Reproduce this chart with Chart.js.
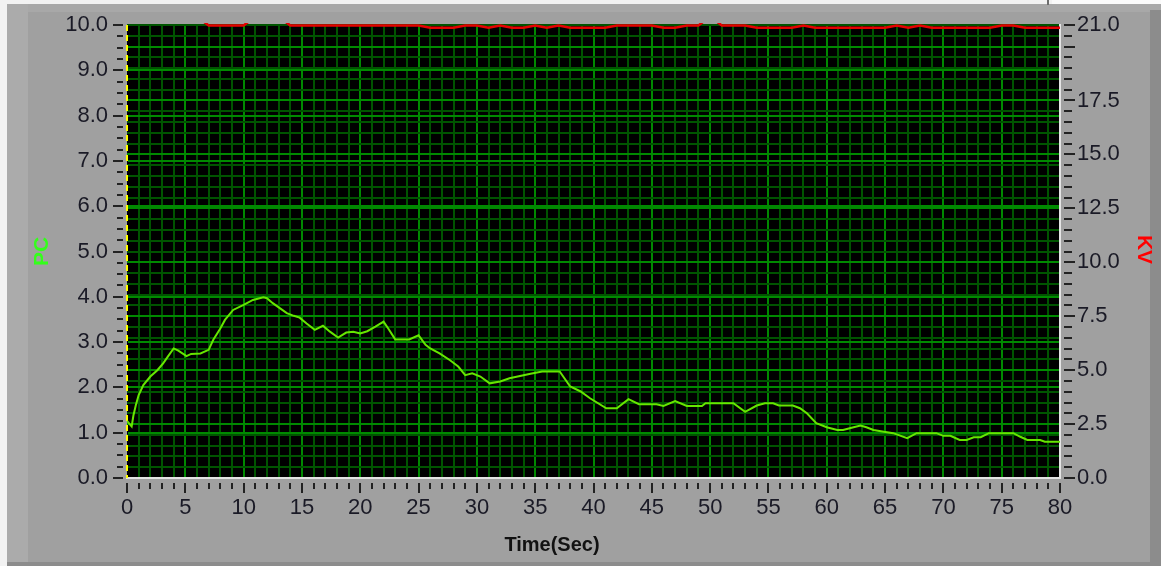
<!DOCTYPE html>
<html>
<head>
<meta charset="utf-8">
<script src="https://cdn.jsdelivr.net/npm/chart.js@4.4.1/dist/chart.umd.min.js"></script>
<style>
  html, body { margin: 0; padding: 0; background: #a0a0a0; overflow: hidden; }
  canvas { display: block; }
</style>
</head>
<body>
<canvas id="graph" width="1161" height="566"></canvas>
<script>
// PC trace: sample time (s) and reading
const pcTime = [0, 0.4, 0.55, 0.75, 1.0, 1.4, 2.0, 2.6, 3.1, 3.5, 4.0, 4.4, 5.1, 5.5, 6.3, 7.0, 7.4, 8.0, 8.4, 9.1,
  10.0, 10.8, 11.7, 12.0, 12.5, 13.1, 13.7, 14.3, 14.8, 15.4, 16.1, 16.8, 17.4, 18.1, 18.8, 19.4, 20.0, 20.6, 21.3, 22.0,
  22.4, 23.0, 24.2, 25.0, 25.6, 26.0, 26.8, 27.7, 28.4, 29.0, 29.6, 30.3, 31.1, 32.0, 32.8, 33.7, 34.6, 35.6, 37.1, 38.0,
  38.9, 39.7, 41.1, 42.0, 43.0, 43.9, 45.4, 46.0, 47.0, 48.0, 49.3, 49.6, 52.0, 53.0, 54.0, 54.7, 55.4, 55.9, 57.1, 57.7,
  58.3, 59.1, 60.0, 60.9, 61.4, 62.3, 62.9, 63.4, 64.0, 64.9, 65.7, 66.9, 67.7, 69.4, 70.0, 70.6, 71.4, 72.0, 72.6, 73.2,
  73.9, 76.0, 76.6, 77.2, 78.3, 78.7, 80.0];
const pcValue = [1.26, 1.14, 1.38, 1.60, 1.83, 2.05, 2.24, 2.38, 2.53, 2.68, 2.86, 2.81, 2.69, 2.74, 2.75, 2.83, 3.05, 3.30, 3.49, 3.71,
  3.82, 3.93, 3.99, 3.97, 3.86, 3.75, 3.64, 3.58, 3.54, 3.41, 3.27, 3.36, 3.23, 3.10, 3.21, 3.23, 3.19, 3.24, 3.34, 3.45,
  3.30, 3.06, 3.06, 3.15, 2.94, 2.86, 2.75, 2.60, 2.46, 2.27, 2.31, 2.24, 2.09, 2.13, 2.20, 2.25, 2.30, 2.35, 2.35, 2.02,
  1.91, 1.76, 1.54, 1.54, 1.74, 1.63, 1.63, 1.59, 1.70, 1.59, 1.59, 1.65, 1.65, 1.46, 1.60, 1.65, 1.65, 1.60, 1.60, 1.54,
  1.43, 1.21, 1.12, 1.06, 1.06, 1.12, 1.16, 1.12, 1.06, 1.02, 0.99, 0.88, 0.99, 0.99, 0.93, 0.93, 0.84, 0.84, 0.90, 0.90,
  0.99, 0.99, 0.91, 0.84, 0.84, 0.80, 0.80];

// KV trace: one sample per second (values above 21.0 run off the top of the graph)
const kvTime = [0, 1, 2, 3, 4, 5, 6, 7, 8, 9, 10, 11, 12, 13, 14, 15, 16, 17, 18, 19, 20,
  21, 22, 23, 24, 25, 26, 27, 28, 29, 30, 31, 32, 33, 34, 35, 36, 37, 38, 39, 40,
  41, 42, 43, 44, 45, 46, 47, 48, 49, 50, 51, 52, 53, 54, 55, 56, 57, 58, 59, 60,
  61, 62, 63, 64, 65, 66, 67, 68, 69, 70, 71, 72, 73, 74, 75, 76, 77, 78, 79, 80];
const kvValue = [21.4, 21.4, 21.4, 21.4, 21.4, 21.4, 21.4, 20.98, 20.98, 20.98, 20.98, 21.4, 21.4, 21.4, 20.98, 20.98, 20.98, 20.98, 20.98, 20.98, 20.98,
  20.98, 20.98, 20.98, 20.98, 20.98, 20.87, 20.87, 20.87, 20.98, 20.98, 20.87, 20.98, 20.87, 20.87, 20.98, 20.87, 20.98, 20.87, 20.87, 20.87,
  20.87, 20.98, 20.98, 20.98, 20.98, 20.87, 20.87, 20.98, 20.98, 21.4, 20.98, 20.98, 20.98, 20.87, 20.87, 20.87, 20.87, 20.98, 20.87, 20.87,
  20.87, 20.87, 20.87, 20.87, 20.87, 20.98, 20.87, 20.98, 20.87, 20.87, 20.87, 20.87, 20.87, 20.87, 20.98, 20.98, 20.87, 20.87, 20.87, 20.87];

// Tick labels
const pcTickLabels = ['0.0', '1.0', '2.0', '3.0', '4.0', '5.0', '6.0', '7.0', '8.0', '9.0', '10.0'];
const kvTickLabels = ['0.0', '2.5', '5.0', '7.5', '10.0', '12.5', '15.0', '17.5', '21.0'];
const timeTickLabels = ['0', '5', '10', '15', '20', '25', '30', '35', '40', '45', '50', '55', '60', '65', '70', '75', '80'];

const GRID_MAJOR = '#008a00';
const GRID_MINOR = '#005400';
const CLEAR = 'rgba(0,0,0,0)';
const LABEL_COLOR = '#1a1a26';
const TICK_FONT = { family: '"Liberation Sans", Arial, sans-serif', size: 22 };

const r2 = v => Math.round(v * 100) / 100;
const noPad = s => { s.paddingTop = 0; s.paddingBottom = 0; s.paddingLeft = 0; s.paddingRight = 0; };

// Panel frame, plot background, tick marks and axis captions
const panel = {
  id: 'panel',
  beforeDraw(chart) {
    const { ctx, width, height, chartArea: a } = chart;
    ctx.save();
    ctx.fillStyle = '#a0a0a0';
    ctx.fillRect(0, 0, width, height);
    ctx.fillStyle = '#f2f2f2';
    ctx.fillRect(0, 0, width, 4);
    ctx.fillRect(0, 0, 7, height);
    ctx.fillStyle = '#ababab';
    ctx.fillRect(7, 4, 21, height - 4);
    ctx.fillStyle = '#a8a8a8';
    ctx.fillRect(28, 4, width - 28, 8);
    ctx.fillStyle = '#8c8c8c';
    ctx.fillRect(1150, 10, width - 1150, height - 10);
    ctx.fillRect(7, height - 4, width - 7, 4);
    ctx.fillStyle = '#fafafa';
    ctx.fillRect(1052, 0, width - 1052, 4);
    ctx.fillStyle = '#6e6e6e';
    ctx.fillRect(1047, 0, 2, 5);
    ctx.fillStyle = '#000000';
    ctx.fillRect(a.left, a.top, a.right - a.left, a.bottom - a.top);
    ctx.restore();
  },
  beforeDatasetsDraw(chart) {
    // dashed yellow cursor along the left edge of the plot
    const { ctx, chartArea: a } = chart;
    ctx.save();
    ctx.strokeStyle = '#ffff00';
    ctx.lineWidth = 2;
    ctx.setLineDash([6, 4]);
    ctx.beginPath();
    ctx.moveTo(a.left, a.top);
    ctx.lineTo(a.left, a.bottom);
    ctx.stroke();
    ctx.restore();
  },
  afterDraw(chart) {
    const { ctx, chartArea: a } = chart;
    const { x, y, y2 } = chart.scales;
    ctx.save();
    ctx.strokeStyle = '#222222';
    ctx.lineWidth = 2;
    const seg = (x1, y1, x2, y3) => { ctx.beginPath(); ctx.moveTo(x1, y1); ctx.lineTo(x2, y3); ctx.stroke(); };
    y.ticks.forEach(t => {
      const p = Math.round(y.getPixelForValue(t.value));
      const major = Number.isInteger(r2(t.value));
      seg(a.left - (major ? 14 : 10), p, a.left - 4, p);
    });
    y2.ticks.forEach(t => {
      const p = Math.round(y2.getPixelForValue(t.value));
      const major = Number.isInteger(r2(t.value) / 2.5) || r2(t.value) === 21;
      seg(a.right + 4, p, a.right + (major ? 15 : 12), p);
    });
    x.ticks.forEach(t => {
      const p = Math.round(x.getPixelForValue(t.value));
      const major = t.value % 5 === 0;
      seg(p, a.bottom + 5, p, a.bottom + (major ? 15 : 11));
    });

    // axis captions
    ctx.textAlign = 'center';
    ctx.textBaseline = 'middle';
    ctx.font = 'bold 21px "Liberation Sans", Arial, sans-serif';
    ctx.fillStyle = '#33ff1a';
    ctx.save();
    ctx.translate(a.left - 85, (a.top + a.bottom) / 2);
    ctx.rotate(-Math.PI / 2);
    ctx.fillText('PC', 0, 0);
    ctx.restore();
    ctx.fillStyle = '#ff0000';
    ctx.save();
    ctx.translate(a.right + 84, (a.top + a.bottom) / 2 - 2);
    ctx.rotate(Math.PI / 2);
    ctx.fillText('KV', 0, 0);
    ctx.restore();
    ctx.fillStyle = '#111111';
    ctx.font = 'bold 20px "Liberation Sans", Arial, sans-serif';
    ctx.fillText('Time(Sec)', a.left + 425, a.bottom + 67);
    ctx.restore();
  }
};

new Chart(document.getElementById('graph'), {
  type: 'line',
  data: {
    datasets: [
      {
        label: 'PC',
        data: pcTime.map((t, i) => ({ x: t, y: pcValue[i] })),
        yAxisID: 'y',
        borderColor: '#66e600',
        borderWidth: 2,
        pointRadius: 0,
        tension: 0
      },
      {
        label: 'KV',
        data: kvTime.map((t, i) => ({ x: t, y: kvValue[i] })),
        yAxisID: 'y2',
        borderColor: '#e60000',
        borderWidth: 2.5,
        pointRadius: 0,
        tension: 0,
        clip: { left: 0, right: 0, top: 2, bottom: 0 }
      }
    ]
  },
  options: {
    responsive: false,
    animation: false,
    devicePixelRatio: 1,
    layout: { padding: { top: 25, left: 0, right: 0, bottom: 0 } },
    plugins: { legend: { display: false }, tooltip: { enabled: false } },
    scales: {
      x: {
        type: 'linear',
        min: 0,
        max: 80,
        afterFit: s => { s.height = 88; noPad(s); },
        ticks: {
          stepSize: 1,
          autoSkip: false,
          maxRotation: 0,
          padding: 17,
          color: LABEL_COLOR,
          font: TICK_FONT,
          callback: v => timeTickLabels.includes(String(v)) ? String(v) : ''
        },
        grid: {
          drawTicks: false,
          lineWidth: 2,
          color: c => (c.tick.value === 0 || c.tick.value === 80) ? CLEAR : (c.tick.value % 5 === 0 ? GRID_MAJOR : GRID_MINOR)
        },
        border: { color: '#e4e4e4', width: 2 }
      },
      y: {
        position: 'left',
        min: 0,
        max: 10,
        afterFit: s => { s.width = 127; noPad(s); },
        ticks: {
          stepSize: 0.25,
          autoSkip: false,
          padding: 19,
          color: LABEL_COLOR,
          font: TICK_FONT,
          callback: v => { const r = r2(v); const s = r.toFixed(1); return Number.isInteger(r) && pcTickLabels.includes(s) ? s : ''; }
        },
        grid: {
          drawTicks: false,
          lineWidth: 2,
          color: c => Number.isInteger(r2(c.tick.value)) ? GRID_MAJOR : CLEAR
        },
        border: { color: CLEAR, width: 2 }
      },
      y2: {
        position: 'right',
        min: 0,
        max: 21,
        afterFit: s => { s.width = 101; noPad(s); },
        ticks: {
          stepSize: 0.5,
          autoSkip: false,
          padding: 17,
          color: LABEL_COLOR,
          font: TICK_FONT,
          callback: v => { const s = r2(v).toFixed(1); return kvTickLabels.includes(s) ? s : ''; }
        },
        grid: {
          drawTicks: false,
          lineWidth: 2,
          color: c => Number.isInteger(r2(c.tick.value) / 2.5) ? GRID_MAJOR : GRID_MINOR
        },
        border: { color: '#e4e4e4', width: 2 }
      }
    }
  },
  plugins: [panel]
});
</script>
</body>
</html>
